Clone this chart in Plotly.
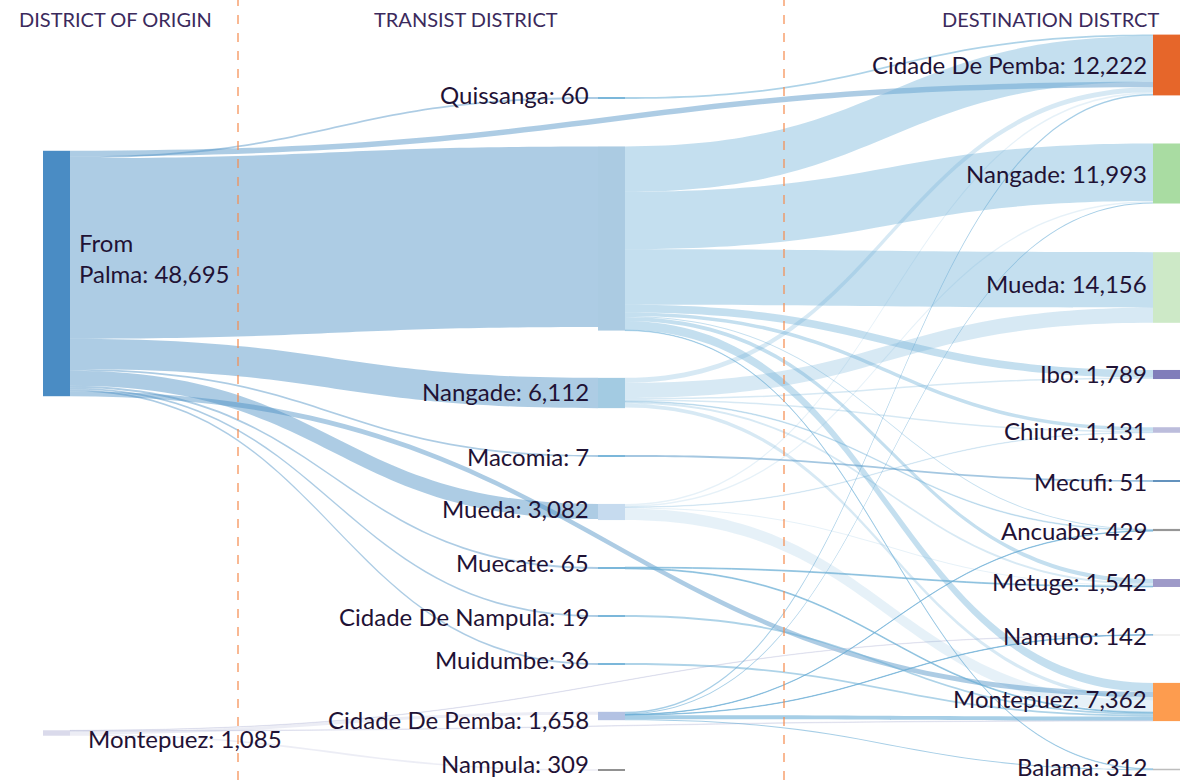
import plotly.graph_objects as go

W, H = 1185, 780

# ---------------- nodes ----------------
node_labels = [
    "From<br>Palma: 48,695", "Montepuez: 1,085",
    "Quissanga: 60", "", "Nangade: 6,112", "Macomia: 7", "Mueda: 3,082",
    "Muecate: 65", "Cidade De Nampula: 19", "Muidumbe: 36",
    "Cidade De Pemba: 1,658", "Nampula: 309",
    "Cidade De Pemba: 12,222", "Nangade: 11,993", "Mueda: 14,156", "Ibo: 1,789",
    "Chiure: 1,131", "Mecufi: 51", "Ancuabe: 429", "Metuge: 1,542",
    "Namuno: 142", "Montepuez: 7,362", "Balama: 312",
]
node_colors = [
    "#4a8cc4", "#dadaeb",
    "#6baed6", "#abcbe2", "#a3cbe2", "#6baed6", "#c6dbef",
    "#6baed6", "#6baed6", "#6baed6", "#b3c2e3", "#737373",
    "#e6662a", "#a9dca2", "#cde9c7", "#807dba", "#bcbddc",
    "#4f85b5", "#969696", "#9e9ac8", "#d9d9d9", "#fd9c4f", "#bdbdbd",
]
column_titles = ["DISTRICT OF ORIGIN", "TRANSIST DISTRICT", "DESTINATION DISTRCT"]

# ---------------- layout (pixels) ----------------
NODE_W = 27
col_px = [56.5, 611.5, 1166.5]
node_col = [0, 0] + [1] * 10 + [2] * 11
node_ypx = [
    273.5, 733,
    98, 238.5, 393, 456, 512, 568, 616, 664, 716, 770,
    65, 173.5, 287.5, 374.5, 430, 481, 530, 583, 635, 702, 769.5,
]
label_ypx = [
    258, 738,
    94, 0, 391, 456, 508, 562, 616, 659, 719, 763,
    64, 173, 283, 373, 430, 481, 530, 581, 635, 698, 766,
]
label_gap = {0: 8, 1: 17}

link_source = [
    0, 0, 0, 0, 0, 0, 0, 0, 0, 0,            # Palma
    1, 1, 1, 1,                              # Montepuez origin
    2,                                       # Quissanga
    3, 3, 3, 3, 3, 3, 3, 3, 3,               # direct (no transit)
    4, 4, 4, 4, 4, 4, 4,                     # Nangade transit
    5,                                       # Macomia
    6, 6, 6, 6, 6,                           # Mueda transit
    7, 7,                                    # Muecate
    8,                                       # Cidade De Nampula
    9,                                       # Muidumbe
    10, 10, 10, 10, 10, 10,                  # Cidade De Pemba transit
]
link_target = [
    2, 12, 3, 4, 5, 6, 21, 7, 8, 9,
    10, 20, 21, 11,
    12,
    12, 13, 14, 15, 16, 18, 19, 21, 22,
    12, 14, 15, 16, 18, 19, 21,
    17,
    12, 13, 16, 19, 21,
    19, 21,
    21,
    21,
    12, 13, 18, 20, 21, 22,
]
link_value = [
    350, 1100, 35800, 6000, 350, 3000, 1000, 350, 350, 350,
    600, 70, 100, 309,
    350,
    9000, 11400, 11000, 1500, 700, 200, 800, 1800, 100,
    1000, 3000, 300, 300, 150, 400, 700,
    350,
    300, 300, 100, 200, 2300,
    175, 175,
    350,
    350,
    300, 200, 80, 80, 800, 200,
]

src_link_color = {
    0: "rgba(74,143,196,0.45)",
    1: "rgba(188,189,220,0.28)",
    2: "rgba(107,174,214,0.55)",
    3: "rgba(107,174,214,0.40)",
    4: "rgba(107,174,214,0.27)",
    5: "rgba(74,143,196,0.50)",
    6: "rgba(107,174,214,0.17)",
    7: "rgba(107,174,214,0.55)",
    8: "rgba(107,174,214,0.55)",
    9: "rgba(107,174,214,0.55)",
    10: "rgba(107,174,214,0.60)",
}
link_colors = [src_link_color[s] for s in link_source]

fig = go.Figure(go.Sankey(
    arrangement="fixed",
    domain=dict(x=[0, 1], y=[0, 1]),
    node=dict(
        label=[""] * len(node_labels),
        customdata=node_labels,
        color=node_colors,
        x=[col_px[c] / W for c in node_col],
        y=[y / H for y in node_ypx],
        thickness=NODE_W,
        pad=47.5,
        line=dict(width=0),
        hoverinfo="skip",
    ),
    link=dict(source=link_source, target=link_target, value=link_value,
              color=link_colors, hoverinfo="skip"),
))

label_font = dict(family="Lato", size=24, color="#1f1235")
for i, txt in enumerate(node_labels):
    if not txt:
        continue
    c = node_col[i]
    if c == 0:
        x = col_px[0] + NODE_W / 2 + label_gap.get(i, 8)
        anchor = "left"
    elif c == 1:
        x = col_px[1] - NODE_W / 2 - 8
        anchor = "right"
    else:
        x = col_px[2] - NODE_W / 2 - 5
        anchor = "right"
    fig.add_annotation(x=x / W, y=1 - label_ypx[i] / H, xref="paper", yref="paper",
                       text=txt, showarrow=False, font=label_font,
                       xanchor=anchor, yanchor="middle", align="left",
                       borderpad=0)

title_font = dict(family="Lato", size=20, color="#3b2a5c")
title_x = [(115, "center"), (466, "center"), (1160, "right")]
for t, (xp, anc) in zip(column_titles, title_x):
    fig.add_annotation(x=xp / W, y=1 - 19 / H, xref="paper", yref="paper",
                       text=t, showarrow=False, font=title_font,
                       xanchor=anc, yanchor="middle", borderpad=0)

for xp in (238, 784):
    fig.add_shape(type="line", xref="paper", yref="paper", layer="above",
                  x0=xp / W, x1=xp / W, y0=0, y1=1,
                  line=dict(color="rgba(244,140,80,0.95)", width=1.3, dash="dash"))

fig.update_layout(
    width=W, height=H,
    margin=dict(l=0, r=0, t=0, b=0),
    paper_bgcolor="white",
    plot_bgcolor="white",
)

fig.write_html("out.html", config={"displayModeBar": False},
               post_script="document.body.style.margin='0px';document.body.style.overflow='hidden';")
